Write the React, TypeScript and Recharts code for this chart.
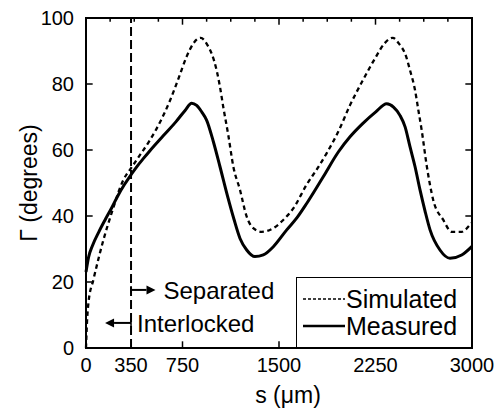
import { LineChart, Line, XAxis, YAxis, ReferenceLine } from "recharts";

// measured contact angle vs arc length
const measuredS = [0, 20, 50, 100, 148, 200, 250, 300, 350, 400, 450, 497, 600, 700, 770, 821, 860, 900, 938, 990, 1041, 1100, 1150, 1197, 1249, 1313, 1378, 1456, 1560, 1640, 1715, 1844, 1961, 2052, 2150, 2250, 2337, 2390, 2440, 2480, 2518, 2557, 2596, 2635, 2674, 2751, 2829, 2920, 3000];
const measuredDeg = [23, 27.5, 31, 35.2, 38.8, 42.5, 46.3, 49.6, 52.5, 55.2, 57.6, 59.8, 64.3, 68.6, 72, 74.2, 73.5, 71.5, 69, 62.5, 55, 46, 39, 33.2, 29.7, 27.7, 28.2, 30.7, 35.8, 39.5, 43.8, 51.9, 59.4, 64, 68, 71.5, 74, 73, 70.5, 67, 61, 55, 47.9, 41.5, 35.8, 29.7, 27.2, 28.2, 30.8];

// simulated
const simulatedS = [0, 8, 20, 57, 100, 135, 200, 290, 350, 420, 497, 580, 653, 720, 782, 840, 891, 950, 976, 1015, 1041, 1067, 1106, 1145, 1197, 1249, 1300, 1365, 1456, 1533, 1611, 1715, 1800, 1870, 1960, 2052, 2150, 2250, 2320, 2384, 2440, 2479, 2518, 2557, 2583, 2609, 2647, 2699, 2777, 2842, 2920, 2984, 3000];
const simulatedDeg = [0, 8, 14, 20.6, 27.5, 32.7, 41, 50.9, 54.5, 58.5, 63, 68.8, 75, 81.8, 88.3, 92.6, 94, 91.4, 89.3, 84.2, 79.2, 73, 64.5, 55, 47.9, 39.8, 36.3, 35.2, 36.3, 38.8, 42.3, 49.5, 54.5, 59, 65.5, 73.6, 81, 88, 92.3, 94, 91.8, 89.3, 84.2, 78.2, 72.1, 66, 55.5, 44.8, 38.8, 35.2, 35.2, 37.3, 38];

const xTicks = [0, 350, 750, 1500, 2250, 3000];
const xMajorMarks = [750, 1500, 2250];
const xMinorMarks = [187.5, 375, 562.5, 937.5, 1125, 1312.5, 1687.5, 1875, 2062.5, 2437.5, 2625, 2812.5];
const yTicks = [0, 20, 40, 60, 80, 100];
const yMarks = [20, 40, 60, 80];

const xMin = 0;
const xMax = 3000;
const yMin = 0;
const yMax = 100;

const boundaryS = 350;
const separated = { from: 350, to: 540, deg: 17.6, label: "Separated" };
const interlocked = { from: 350, to: 148, deg: 7.6, label: "Interlocked" };

// inward tick length expressed in axis units (about 6px)
const tickX = 46;
const tickY = 1.8;

const measured = measuredS.map((s, i) => ({ s, deg: measuredDeg[i] }));
const simulated = simulatedS.map((s, i) => ({ s, deg: simulatedDeg[i] }));

const font = "'Liberation Sans', Arial, Helvetica, sans-serif";

const series = [
  { name: "Simulated", dash: "3 2", width: 1.5 },
  { name: "Measured", dash: undefined, width: 2.5 },
];

const BottomTick = (p: any) => (
  <text x={p.x} y={p.y + 24} textAnchor="middle" fontSize={20} fontFamily={font} fill="#000">
    {p.payload.value}
  </text>
);

const LeftTick = (p: any) => (
  <text x={p.x - 12} y={p.y} dy="0.36em" textAnchor="end" fontSize={20} fontFamily={font} fill="#000">
    {p.payload.value}
  </text>
);

// arrow from the boundary line, with a small bar at its foot
const arrowShape = (label: string, textAtStart: boolean) => (p: any) => {
  const { x1, y1, x2, y2 } = p;
  const dir = x2 > x1 ? 1 : -1;
  const head = 9;
  const tx = textAtStart ? x1 + 6 : x2 + 8;
  return (
    <g>
      <line x1={x1} x2={x2 - dir * head} y1={y1} y2={y2} stroke="#000" strokeWidth={2} />
      <line x1={x1} x2={x1} y1={y1 - 4} y2={y1 + 4} stroke="#000" strokeWidth={1.5} />
      <polygon points={`${x2},${y2} ${x2 - dir * head},${y2 - 4.5} ${x2 - dir * head},${y2 + 4.5}`} fill="#000" />
      <text x={tx} y={y1} dy="0.36em" fontSize={24} fontFamily={font} fill="#000">
        {label}
      </text>
    </g>
  );
};

// plain segment drawn by our own shape (frame and tick marks)
const plainShape = (w: number) => (p: any) => (
  <line x1={p.x1} y1={p.y1} x2={p.x2} y2={p.y2} stroke="#000" strokeWidth={w} strokeLinecap="square" />
);

const seg = (key: string, ax: number, ay: number, bx: number, by: number, w = 1.5) => (
  <ReferenceLine
    key={key}
    segment={[
      { x: ax, y: ay },
      { x: bx, y: by },
    ]}
    ifOverflow="visible"
    shape={plainShape(w)}
  />
);

const LegendBox = () => (
  <div
    style={{
      position: "absolute",
      left: 296,
      top: 277,
      width: 176,
      height: 71,
      boxSizing: "border-box",
      border: "1.5px solid #000",
      background: "#fff",
      fontFamily: font,
      fontSize: 25,
      color: "#000",
    }}
  >
    {series.map((s, i) => (
      <div key={s.name} style={{ position: "absolute", left: 6, top: 7 + i * 27, height: 28, display: "flex", alignItems: "center" }}>
        <svg width={42} height={10} style={{ display: "block" }}>
          <line x1={0} x2={42} y1={5} y2={5} stroke="#000" strokeWidth={s.width} strokeDasharray={s.dash} />
        </svg>
        <span style={{ marginLeft: 1, lineHeight: "28px" }}>{s.name}</span>
      </div>
    ))}
  </div>
);

export default function App() {
  return (
    <div style={{ position: "absolute", left: 0, top: 0, width: 500, height: 412 }}>
      <LineChart width={500} height={412} margin={{ top: 18, right: 28, left: 0, bottom: 0 }}>
        <XAxis
          dataKey="s"
          type="number"
          domain={[xMin, xMax]}
          ticks={xTicks}
          interval={0}
          height={64}
          tickSize={0}
          tickMargin={0}
          tickLine={false}
          stroke="#000"
          strokeWidth={2}
          tick={BottomTick}
          label={{ value: "s (μm)", position: "insideBottom", offset: 9, dx: 9, fontSize: 23, fontFamily: font, fill: "#000" }}
        />
        <YAxis
          type="number"
          domain={[yMin, yMax]}
          ticks={yTicks}
          interval={0}
          width={86}
          tickSize={0}
          tickMargin={0}
          tickLine={false}
          stroke="#000"
          strokeWidth={2}
          tick={LeftTick}
          label={{
            value: "Γ (degrees)",
            angle: -90,
            position: "insideLeft",
            offset: 29,
            fontSize: 23,
            fontFamily: font,
            fill: "#000",
            style: { textAnchor: "middle" },
          }}
        />

        <ReferenceLine x={boundaryS} stroke="#000" strokeWidth={2} strokeDasharray="9 4" />
        <ReferenceLine
          segment={[
            { x: separated.from, y: separated.deg },
            { x: separated.to, y: separated.deg },
          ]}
          shape={arrowShape(separated.label, false)}
        />
        <ReferenceLine
          segment={[
            { x: interlocked.from, y: interlocked.deg },
            { x: interlocked.to, y: interlocked.deg },
          ]}
          shape={arrowShape(interlocked.label, true)}
        />
        <Line
          data={simulated}
          dataKey="deg"
          name="Simulated"
          type="monotone"
          stroke="#000"
          strokeWidth={2.3}
          strokeDasharray="4.5 3.5"
          dot={false}
          isAnimationActive={false}
        />
        <Line
          data={measured}
          dataKey="deg"
          name="Measured"
          type="monotone"
          stroke="#000"
          strokeWidth={3}
          dot={false}
          isAnimationActive={false}
        />

        {/* frame */}
        {seg("fb", xMin, yMin, xMax, yMin, 2)}
        {seg("ft", xMin, yMax, xMax, yMax, 2)}
        {seg("fl", xMin, yMin, xMin, yMax, 2)}
        {seg("fr", xMax, yMin, xMax, yMax, 2)}

        {/* inward tick marks */}
        {xMajorMarks.map((t) => seg(`b${t}`, t, yMin, t, yMin + tickY))}
        {xMajorMarks.map((t) => seg(`t${t}`, t, yMax, t, yMax - tickY))}
        {xMinorMarks.map((t) => seg(`m${t}`, t, yMax, t, yMax - tickY / 2))}
        {yMarks.map((v) => seg(`l${v}`, xMin, v, xMin + tickX, v))}
        {yMarks.map((v) => seg(`r${v}`, xMax, v, xMax - tickX, v))}
      </LineChart>
      <LegendBox />
    </div>
  );
}
